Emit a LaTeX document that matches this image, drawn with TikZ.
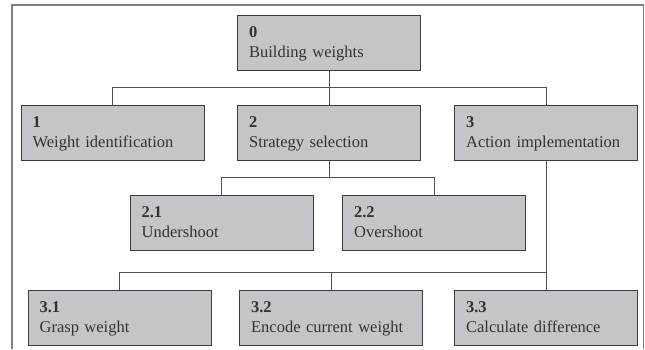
\documentclass[tikz,border=0pt]{standalone}
\usepackage{fontspec}
\setmainfont{Liberation Serif}
\definecolor{boxfill}{HTML}{C3C5C9}
\definecolor{boxline}{HTML}{3C3C3C}
\definecolor{conn}{HTML}{505050}
\definecolor{framec}{HTML}{808080}
\definecolor{txt}{HTML}{333333}
\newcommand{\boxtext}[2]{\strut\textbf{#1}\\#2\strut}
\begin{document}
\begin{tikzpicture}[x=1pt,y=-1pt,
  taskbox/.style={draw=boxline, line width=1.2pt, fill=boxfill, anchor=north west,
    minimum width=183pt, minimum height=55pt, text width=160pt, align=left,
    inner xsep=11.5pt, inner ysep=0pt, text=txt,
    font=\fontsize{16.5}{20}\selectfont},
  conn/.style={draw=conn, line width=1pt},
  framestyle/.style={draw=framec, line width=1.6pt}
]
\useasboundingbox (0,0) rectangle (645,349);
\draw[framestyle] (12,349) -- (12,5) -- (643.5,5) -- (643.5,349);

\node[taskbox] (b0) at (237,15) {\boxtext{0}{Building weights}};
\node[taskbox] (b1) at (20.5,105) {\boxtext{1}{Weight identification}};
\node[taskbox] (b2) at (237,105) {\boxtext{2}{Strategy selection}};
\node[taskbox] (b3) at (454,105) {\boxtext{3}{Action implementation}};
\node[taskbox] (b21) at (129.5,195) {\boxtext{2.1}{Undershoot}};
\node[taskbox] (b22) at (342,195) {\boxtext{2.2}{Overshoot}};
\node[taskbox] (b31) at (27.5,290) {\boxtext{3.1}{Grasp weight}};
\node[taskbox] (b32) at (239,290) {\boxtext{3.2}{Encode current weight}};
\node[taskbox] (b33) at (454,290) {\boxtext{3.3}{Calculate difference}};

\coordinate (j0) at (0,87);
\coordinate (j2) at (0,177);
\coordinate (j3) at (0,272);

\draw[conn] (b0.south) -- (b0.south |- j0);
\draw[conn] (b1.north) -- (b1.north |- j0) -- (b3.north |- j0) -- (b3.north);
\draw[conn] (b2.north) -- (b2.north |- j0);

\draw[conn] (b2.south) -- (b2.south |- j2);
\draw[conn] (b21.north) -- (b21.north |- j2) -- (b22.north |- j2) -- (b22.north);

\draw[conn] (b3.south) -- (b3.south |- b33.north);
\draw[conn] (b31.north) -- (b31.north |- j3) -- (b3.south |- j3);
\draw[conn] (b32.north) -- (b32.north |- j3);
\end{tikzpicture}
\end{document}
